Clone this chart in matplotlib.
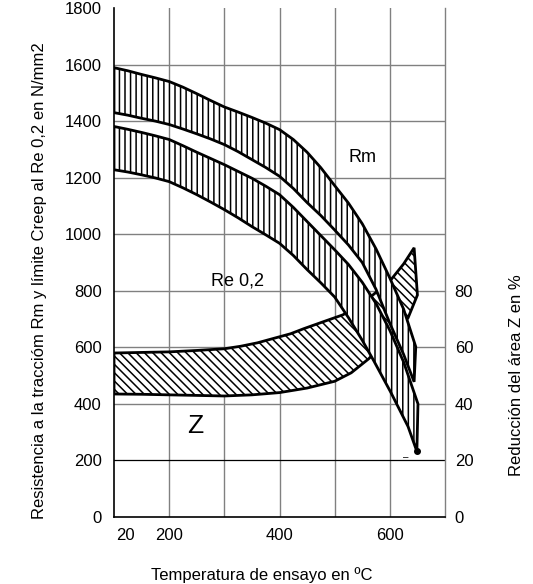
import matplotlib.pyplot as plt

plt.rcParams['font.family'] = ['Liberation Sans', 'DejaVu Sans']
plt.rcParams['hatch.linewidth'] = 1.1

# Rm band (tensile strength), N/mm2
rm_top_t = [100, 125, 150, 175, 200, 225, 250, 275, 300, 325, 350, 375, 400, 425,
            450, 475, 500, 525, 550, 575, 600, 625, 647]
rm_top = [1589, 1578, 1565, 1553, 1540, 1520, 1497, 1473, 1450, 1432, 1413, 1393, 1370,
          1335, 1290, 1235, 1172, 1110, 1037, 948, 845, 735, 602]
rm_bot_t = [100, 125, 150, 175, 200, 225, 250, 275, 300, 325, 350, 375, 400, 425,
            450, 475, 500, 525, 550, 575, 600, 625, 644]
rm_bot = [1430, 1421, 1410, 1400, 1388, 1372, 1355, 1337, 1317, 1292, 1264, 1236, 1205,
          1162, 1112, 1066, 1015, 962, 900, 805, 685, 575, 478]

# Re 0,2 band
re_top_t = [100, 125, 150, 175, 200, 225, 250, 275, 300, 325, 350, 375, 400, 425,
            450, 475, 500, 525, 550, 575, 600, 625, 651]
re_top = [1381, 1371, 1360, 1348, 1335, 1313, 1290, 1268, 1246, 1222, 1198, 1170, 1140,
          1095, 1045, 995, 945, 893, 830, 755, 660, 548, 400]
re_bot_t = [100, 125, 150, 175, 200, 225, 250, 275, 300, 325, 350, 375, 400, 425,
            450, 475, 500, 525, 550, 571, 602, 633, 649]
re_bot = [1228, 1220, 1210, 1199, 1186, 1164, 1140, 1114, 1087, 1058, 1027, 998, 968,
          925, 875, 828, 778, 705, 625, 552, 440, 320, 232]

# Z band (reduction of area, %)
z_top_t = [100, 150, 200, 250, 300, 330, 360, 390, 420, 444, 480, 515, 560, 602, 625,
           644, 650]
z_top = [58.0, 58.2, 58.4, 58.9, 59.5, 60.4, 61.6, 63.2, 64.8, 66.6, 69.1, 71.5, 77.0,
         83.9, 89.5, 95.2, 78.5]
z_bot_t = [100, 150, 200, 250, 300, 350, 400, 450, 500, 530, 562, 600, 633]
z_bot = [43.5, 43.4, 43.2, 43.0, 42.8, 43.2, 44.0, 45.6, 48.0, 51.0, 56.0, 64.0, 70.4]

xtick_pos = [120, 200, 400, 600]
xtick_lab = ['20', '200', '400', '600']
yticks = [0, 200, 400, 600, 800, 1000, 1200, 1400, 1600, 1800]
zticks = [0, 20, 40, 60, 80]
grid_x = [200, 300, 400, 500, 600]
grid_y = [400, 600, 800, 1000, 1200, 1400, 1600]

fig = plt.figure(figsize=(5.33, 5.84), dpi=100)
ax = fig.add_axes([0.2139, 0.1147, 0.621, 0.8716])
ax.set_xlim(100, 700)
ax.set_ylim(0, 1800)

# grid
for gx in grid_x:
    ax.axvline(gx, color='#808080', lw=1.0, zorder=1)
for gy in grid_y:
    ax.axhline(gy, color='#808080', lw=1.0, zorder=1)
ax.axhline(200, color='black', lw=0.9, zorder=1)

# Z band first, partly hidden below the other bands
zx = z_top_t + z_bot_t[::-1]
zy = [v * 10 for v in z_top] + [v * 10 for v in z_bot[::-1]]
ax.fill(zx, zy, facecolor='white', edgecolor='black', hatch='\\\\\\\\', lw=2, zorder=2)

ax.fill(rm_top_t + rm_bot_t[::-1], rm_top + rm_bot[::-1], facecolor='white',
        edgecolor='black', hatch='|||', lw=2, zorder=4)
ax.fill(re_top_t + re_bot_t[::-1], re_top + re_bot[::-1], facecolor='white',
        edgecolor='black', hatch='|||', lw=2, zorder=4)
ax.plot(re_bot_t[-1], re_bot[-1], 'o', color='black', ms=4, zorder=5)

ax.text(551, 1271, 'Rm', fontsize=13, ha='center', va='center')
ax.text(324, 835, 'Re 0,2', fontsize=13, ha='center', va='center')
ax.text(247, 322, 'Z', fontsize=19, ha='center', va='center')
ax.text(629, 212, '\u2013', fontsize=7, ha='center', va='center')

ax.set_xticks(xtick_pos)
ax.set_xticklabels(xtick_lab)
ax.set_yticks(yticks)
ax.tick_params(labelsize=12, length=0)
ax.tick_params(axis='x', pad=8)
ax.tick_params(axis='y', pad=9)

for s in ['left', 'bottom']:
    ax.spines[s].set_color('black')
    ax.spines[s].set_linewidth(1.2)
ax.spines['top'].set_visible(False)
ax.spines['right'].set_color('#808080')
ax.spines['right'].set_linewidth(1.0)

ax.set_xlabel('Temperatura de ensayo en \u00baC', fontsize=12, va='center')
ax.xaxis.set_label_coords(0.447, -0.114)
ax.set_ylabel('Resistencia a la tracci\u00f3m Rm y l\u00edmite Creep al Re 0,2 en N/mm2',
              fontsize=12, va='center')
ax.yaxis.set_label_coords(-0.224, 0.464)

ax2 = ax.twinx()
ax2.set_ylim(0, 180)
ax2.set_yticks(zticks)
ax2.tick_params(labelsize=12, length=0, pad=7)
for s in ax2.spines.values():
    s.set_visible(False)
ax2.set_ylabel('Reducci\u00f3n del \u00e1rea Z en %', fontsize=12, va='center')
ax2.yaxis.set_label_coords(1.217, 0.279)

fig.savefig('out.png', dpi=100)
